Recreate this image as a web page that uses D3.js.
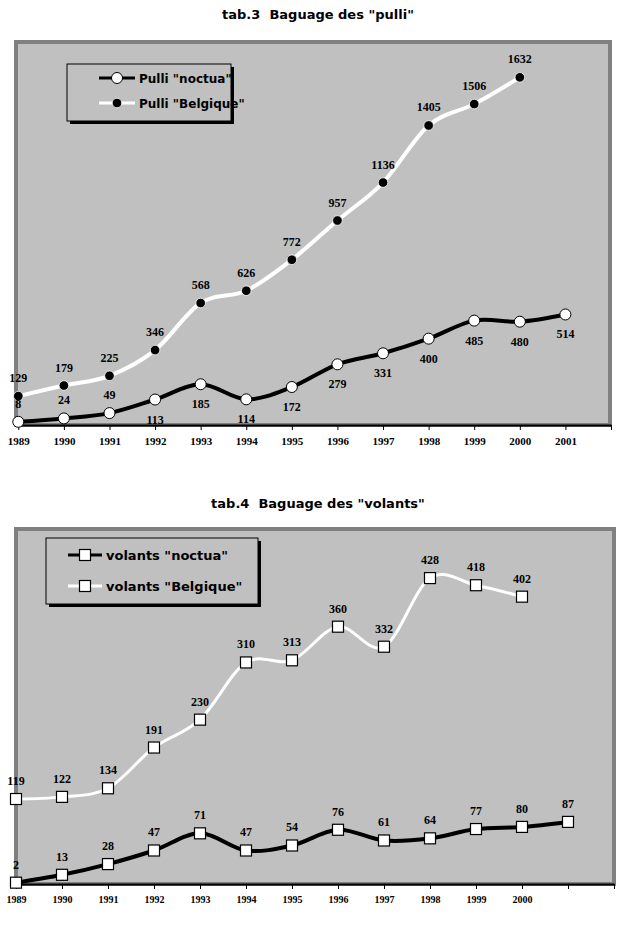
<!doctype html>
<html>
<head>
<meta charset="utf-8">
<title>Baguage des pulli et volants</title>
<style>
  body { margin: 0; background: #fff; }
  .title, .legend text { font-family: "DejaVu Sans", sans-serif; font-weight: bold; white-space: pre; }
  .title { font-size: 13px; }
  .val { font-family: "Liberation Serif", serif; font-weight: bold; font-size: 12px; }
  .tick text { font-family: "Liberation Serif", serif; font-weight: bold; }
</style>
<script src="https://cdn.jsdelivr.net/npm/d3@7/dist/d3.min.js"></script>
</head>
<body>
<svg width="632" height="932"></svg>
<script>

var years = [1989, 1990, 1991, 1992, 1993, 1994, 1995, 1996, 1997, 1998, 1999, 2000, 2001];
var yearLabels3 = ['1989', '1990', '1991', '1992', '1993', '1994', '1995', '1996', '1997', '1998', '1999', '2000', '2001'];
var yearLabels4 = ['1989', '1990', '1991', '1992', '1993', '1994', '1995', '1996', '1997', '1998', '1999', '2000'];

var pulliNoctua   = [8, 24, 49, 113, 185, 114, 172, 279, 331, 400, 485, 480, 514];
var pulliBelgique = [129, 179, 225, 346, 568, 626, 772, 957, 1136, 1405, 1506, 1632];

var volantsNoctua   = [2, 13, 28, 47, 71, 47, 54, 76, 61, 64, 77, 80, 87];
var volantsBelgique = [119, 122, 134, 191, 230, 310, 313, 360, 332, 428, 418, 402];

var svg = d3.select('svg');

var charts = [
  {
    title: 'tab.3  Baguage des "pulli"', titleY: 19,
    frame: {x: 16, y: 42, w: 594, h: 383},
    xRange: [18.3, 611], yRange: [423.5, 41.7], yMax: 1800,
    labels: yearLabels3, tickFont: 11,
    marker: 'circle',
    noctua: pulliNoctua, belgique: pulliBelgique,
    names: ['Pulli "noctua"', 'Pulli "Belgique"'],
    noctuaBelow: function(i) { return i >= 3; },
    belgWidth: 4,
    legend: {x: 67, y: 64, w: 164, h: 57, lx: 99, lw: 36, tx: 139, rows: [78, 103], font: 12}
  },
  {
    title: 'tab.4  Baguage des "volants"', titleY: 508,
    frame: {x: 16, y: 529, w: 598, h: 355},
    xRange: [16, 614], yRange: [884.1, 526.6], yMax: 500,
    labels: yearLabels4, tickFont: 10,
    marker: 'square',
    noctua: volantsNoctua, belgique: volantsBelgique,
    names: ['volants "noctua"', 'volants "Belgique"'],
    noctuaBelow: function(i) { return false; },
    belgWidth: 3,
    legend: {x: 46, y: 538, w: 212, h: 66, lx: 68, lw: 34, tx: 106, rows: [555, 586], font: 13}
  }
];

charts.forEach(drawChart);

function drawMarker(g, type, cx, cy, dark) {
  if (type === 'circle') {
    g.append('circle')
      .attr('cx', cx).attr('cy', cy)
      .attr('r', dark ? 4.8 : 5.5)
      .attr('fill', dark ? '#000' : '#fff')
      .attr('stroke', dark ? '#fff' : '#000')
      .attr('stroke-width', dark ? 0.8 : 1);
  } else {
    g.append('rect')
      .attr('x', cx - 5.5).attr('y', cy - 5.5)
      .attr('width', 11).attr('height', 11)
      .attr('fill', '#fff')
      .attr('stroke', '#000')
      .attr('stroke-width', 1.2);
  }
}

function drawChart(c) {
  var g = svg.append('g');

  g.append('text')
    .attr('class', 'title')
    .attr('x', 318).attr('y', c.titleY)
    .attr('text-anchor', 'middle')
    .text(c.title);

  // plot frame
  g.append('rect')
    .attr('x', c.frame.x).attr('y', c.frame.y)
    .attr('width', c.frame.w).attr('height', c.frame.h)
    .attr('fill', '#c0c0c0')
    .attr('stroke', '#808080')
    .attr('stroke-width', 4);

  var x = d3.scaleLinear().domain([1989, 2002]).range(c.xRange);
  var y = d3.scaleLinear().domain([0, c.yMax]).range(c.yRange);

  var axisY = c.frame.y + c.frame.h;
  var xAxis = d3.axisBottom(x)
    .tickValues(years.concat([2002]))
    .tickSize(5)
    .tickSizeOuter(0)
    .tickPadding(7)
    .tickFormat(function(d, i) { return c.labels[i] || ''; });

  var ax = g.append('g')
    .attr('transform', 'translate(0,' + axisY + ')')
    .call(xAxis);
  ax.select('.domain').attr('stroke', '#000').attr('stroke-width', 2);
  ax.selectAll('.tick line').attr('stroke', '#000');
  ax.selectAll('.tick text').attr('fill', '#000').attr('font-size', c.tickFont);

  var line = d3.line()
    .x(function(d, i) { return x(years[i]); })
    .y(function(d) { return y(d); })
    .curve(d3.curveCatmullRom.alpha(0));

  g.append('path')
    .datum(c.noctua)
    .attr('d', line)
    .attr('fill', 'none')
    .attr('stroke', '#000')
    .attr('stroke-width', 4);

  g.append('path')
    .datum(c.belgique)
    .attr('d', line)
    .attr('fill', 'none')
    .attr('stroke', '#fff')
    .attr('stroke-width', c.belgWidth);

  c.noctua.forEach(function(v, i) {
    drawMarker(g, c.marker, x(years[i]), y(v), false);
  });
  c.belgique.forEach(function(v, i) {
    drawMarker(g, c.marker, x(years[i]), y(v), c.marker === 'circle');
  });

  c.noctua.forEach(function(v, i) {
    g.append('text')
      .attr('class', 'val')
      .attr('x', x(years[i]))
      .attr('y', y(v) + (c.noctuaBelow(i) ? 24 : -14))
      .attr('text-anchor', 'middle')
      .text(v);
  });
  c.belgique.forEach(function(v, i) {
    g.append('text')
      .attr('class', 'val')
      .attr('x', x(years[i]))
      .attr('y', y(v) - 14)
      .attr('text-anchor', 'middle')
      .text(v);
  });

  // legend
  var L = c.legend;
  var lg = g.append('g').attr('class', 'legend');
  lg.append('rect')
    .attr('x', L.x + 3).attr('y', L.y + 3)
    .attr('width', L.w).attr('height', L.h)
    .attr('fill', '#000');
  lg.append('rect')
    .attr('x', L.x).attr('y', L.y)
    .attr('width', L.w).attr('height', L.h)
    .attr('fill', '#c0c0c0')
    .attr('stroke', '#000')
    .attr('stroke-width', 1);

  [['#000', false], ['#fff', c.marker === 'circle']].forEach(function(s, i) {
    var ry = L.rows[i];
    lg.append('line')
      .attr('x1', L.lx).attr('x2', L.lx + L.lw)
      .attr('y1', ry).attr('y2', ry)
      .attr('stroke', s[0])
      .attr('stroke-width', 3);
    drawMarker(lg, c.marker, L.lx + L.lw / 2, ry, s[1]);
    lg.append('text')
      .attr('x', L.tx).attr('y', ry + 4.5)
      .attr('font-size', L.font)
      .text(c.names[i]);
  });
}

</script>
</body>
</html>
